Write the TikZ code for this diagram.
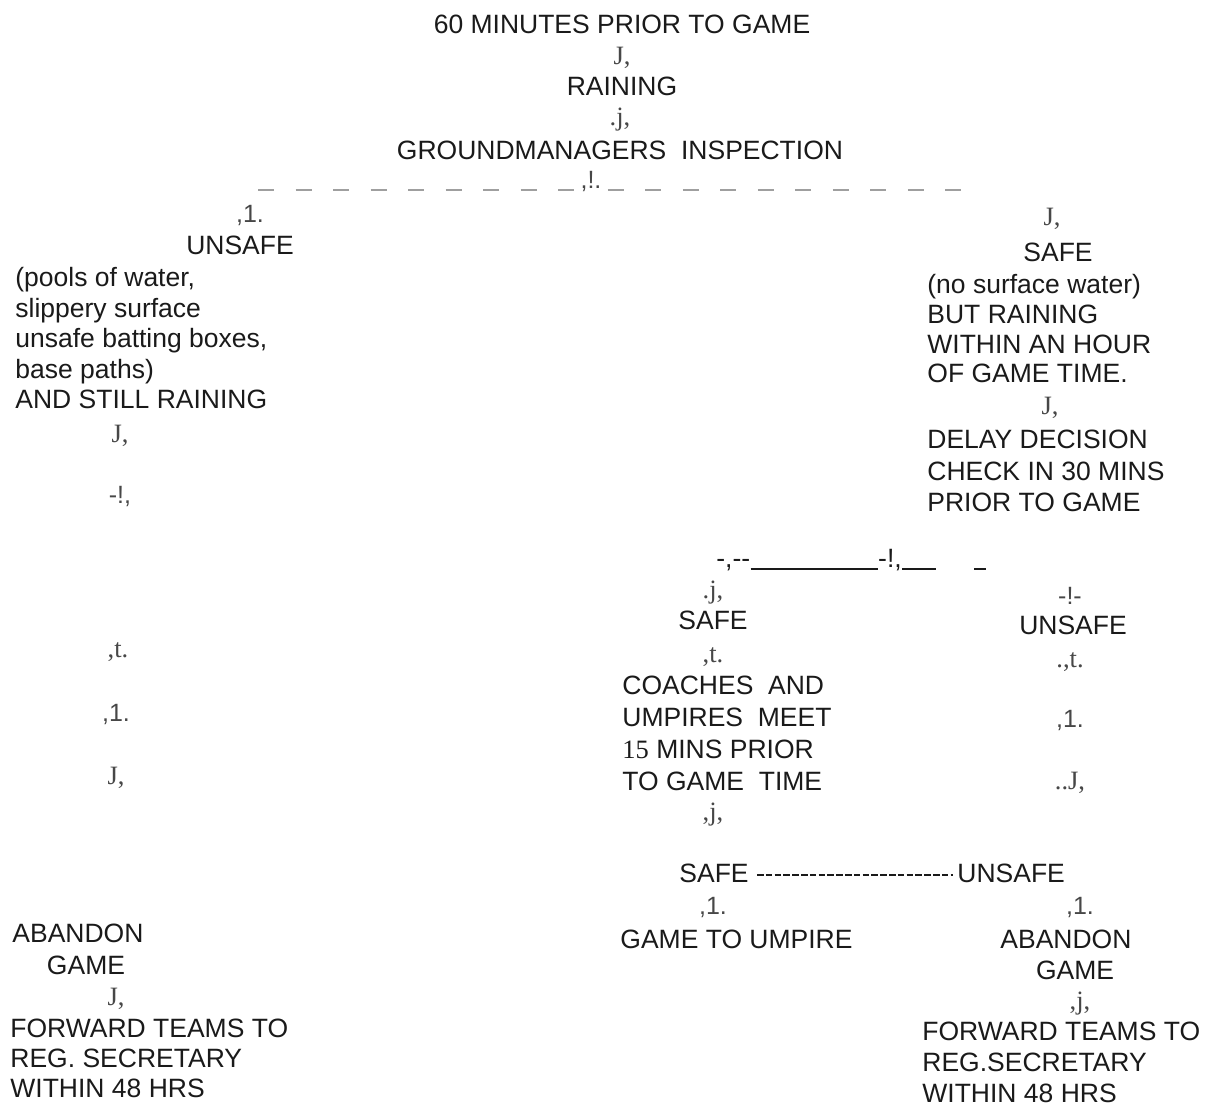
\documentclass[tikz,border=0pt]{standalone}
\usepackage{fontspec}
\newfontfamily\sansf{Liberation Sans}
\newfontfamily\serf{Liberation Serif}
\usetikzlibrary{positioning}

\definecolor{ink}{HTML}{1A1A1A}
\definecolor{tick}{HTML}{474747}

\tikzset{
  txt/.style={inner sep=0pt, text=ink, anchor=base, font=\sansf\fontsize{13.25}{15}\selectfont},
  txtl/.style={txt, anchor=north west, align=left},
  leading/.style={font=\sansf\fontsize{13.25}{#1}\selectfont},
  glyph/.style={inner sep=0pt, text=tick, anchor=base, font=\serf\fontsize{13.25}{15}\selectfont},
  glyphs/.style={glyph, font=\sansf\fontsize{12.5}{15}\selectfont},
  splitline/.style={draw=gray!75, line width=0.8pt, dash pattern=on 8pt off 10.75pt},
  rule/.style={draw=ink, line width=0.9pt},
  hyphenline/.style={draw=ink, line width=0.9pt, dash pattern=on 3.3pt off 1.1pt},
}

\begin{document}
\begin{tikzpicture}[x=0.5pt, y=-0.5pt]
    \useasboundingbox (0,0) rectangle (1213,1108);

    % top column
    \node[txt] (start) at (622,33) {60 MINUTES PRIOR TO GAME};
    \node[glyph] (g1) at (622,64) {J,};
    \node[txt] (rain) at (622,95) {RAINING};
    \node[glyph] (g2) at (620,125) {.j,};
    \node[txt] (insp) at (620,159) {GROUNDMANAGERS\ \ INSPECTION};
    \coordinate (splitl) at (258,190);
    \node[glyphs] (g3) at (591,188) {,!.};
    \coordinate (splitr) at (968,190);
    \draw[splitline] (splitl) -- (g3.base west |- splitl);
    \draw[splitline] ([xshift=3pt]g3.base east |- splitr) -- (splitr);

    % left branch
    \node[glyphs] (g4) at (250,222) {,1.};
    \node[txt] (unsafe) at (240,254) {UNSAFE};
    \node[txtl, leading=15.25] (pools) at (15,267)
        {(pools of water,\\slippery surface\\unsafe batting boxes,\\base paths)\\AND STILL RAINING};
    \node[glyph] (g5) at (120,442) {J,};
    \node[glyphs] (g6) at (120,503) {-!,};
    \node[glyph] (g7) at (118,657) {,t.};
    \node[glyphs] (g8) at (116,721) {,1.};
    \node[glyph] (g9) at (116,784) {J,};
    \node[txt, anchor=base west] (abandl) at (12,942) {ABANDON};
    \node[txt] (gamel) at (86,974) {GAME};
    \node[glyph] (g10) at (116,1005) {J,};
    \node[txtl] (fwdl) at (10,1019) {FORWARD TEAMS TO\\REG. SECRETARY\\WITHIN 48 HRS};

    % right branch
    \node[glyph] (g11) at (1052,225) {J,};
    \node[txt] (safe) at (1058,261) {SAFE};
    \node[txtl, leading=14.85] (nowater) at (927,274)
        {(no surface water)\\BUT RAINING\\WITHIN AN HOUR\\OF GAME TIME.};
    \node[glyph] (g12) at (1050,414) {J,};
    \node[txtl, leading=15.75] (delay) at (927,430)
        {DELAY DECISION\\CHECK IN 30 MINS\\PRIOR TO GAME};

    % 30 minute check
    \node[txt, anchor=base west] (fork) at (716,567) {-,--};
    \node[txt] (forkm) at (890,567) {-!,};
    \coordinate (forkr) at (936,569);
    \coordinate (stubl) at (974,569);
    \coordinate (stubr) at (986,569);
    \draw[rule] ([yshift=-1pt]fork.base east) -- ([yshift=-1pt]forkm.base west);
    \draw[rule] ([yshift=-1pt]forkm.base east) -- (forkr);
    \draw[rule] (stubl) -- (stubr);

    \node[glyph] (g13) at (713,598) {.j,};
    \node[txt] (msafe) at (713,629) {SAFE};
    \node[glyph] (g14) at (713,662) {,t.};
    \node[txtl, leading=16] (coaches) at (622,676)
        {COACHES\ \ AND\\UMPIRES\ \ MEET\\{\serf 15} MINS PRIOR\\TO GAME\ \ TIME};
    \node[glyph] (g15) at (713,820) {,j,};

    \node[glyphs] (g16) at (1070,604) {-!-};
    \node[txt] (munsafe) at (1073,634) {UNSAFE};
    \node[glyph] (g17) at (1070,667) {.,t.};
    \node[glyphs] (g18) at (1070,727) {,1.};
    \node[glyph] (g19) at (1070,789) {..J,};

    % 15 minute meeting
    \node[txt, anchor=base west] (bsafe) at (679,882) {SAFE};
    \node[txt, anchor=base west] (bunsafe) at (957,882) {UNSAFE};
    \draw[hyphenline] ([xshift=4pt,yshift=3.6pt]bsafe.base east) -- ([xshift=-2pt,yshift=3.6pt]bunsafe.base west);
    \node[glyphs] (g20) at (713,914) {,1.};
    \node[glyphs] (g21) at (1080,914) {,1.};
    \node[txt, anchor=base west] (umpire) at (620,948) {GAME TO UMPIRE};
    \node[txt, anchor=base west] (abandr) at (1000,948) {ABANDON};
    \node[txt] (gamer) at (1075,979) {GAME};
    \node[glyph] (g22) at (1080,1009) {,j,};
    \node[txtl, leading=15.5] (fwdr) at (922,1022) {FORWARD TEAMS TO\\REG.SECRETARY\\WITHIN 48 HRS};
\end{tikzpicture}
\end{document}
